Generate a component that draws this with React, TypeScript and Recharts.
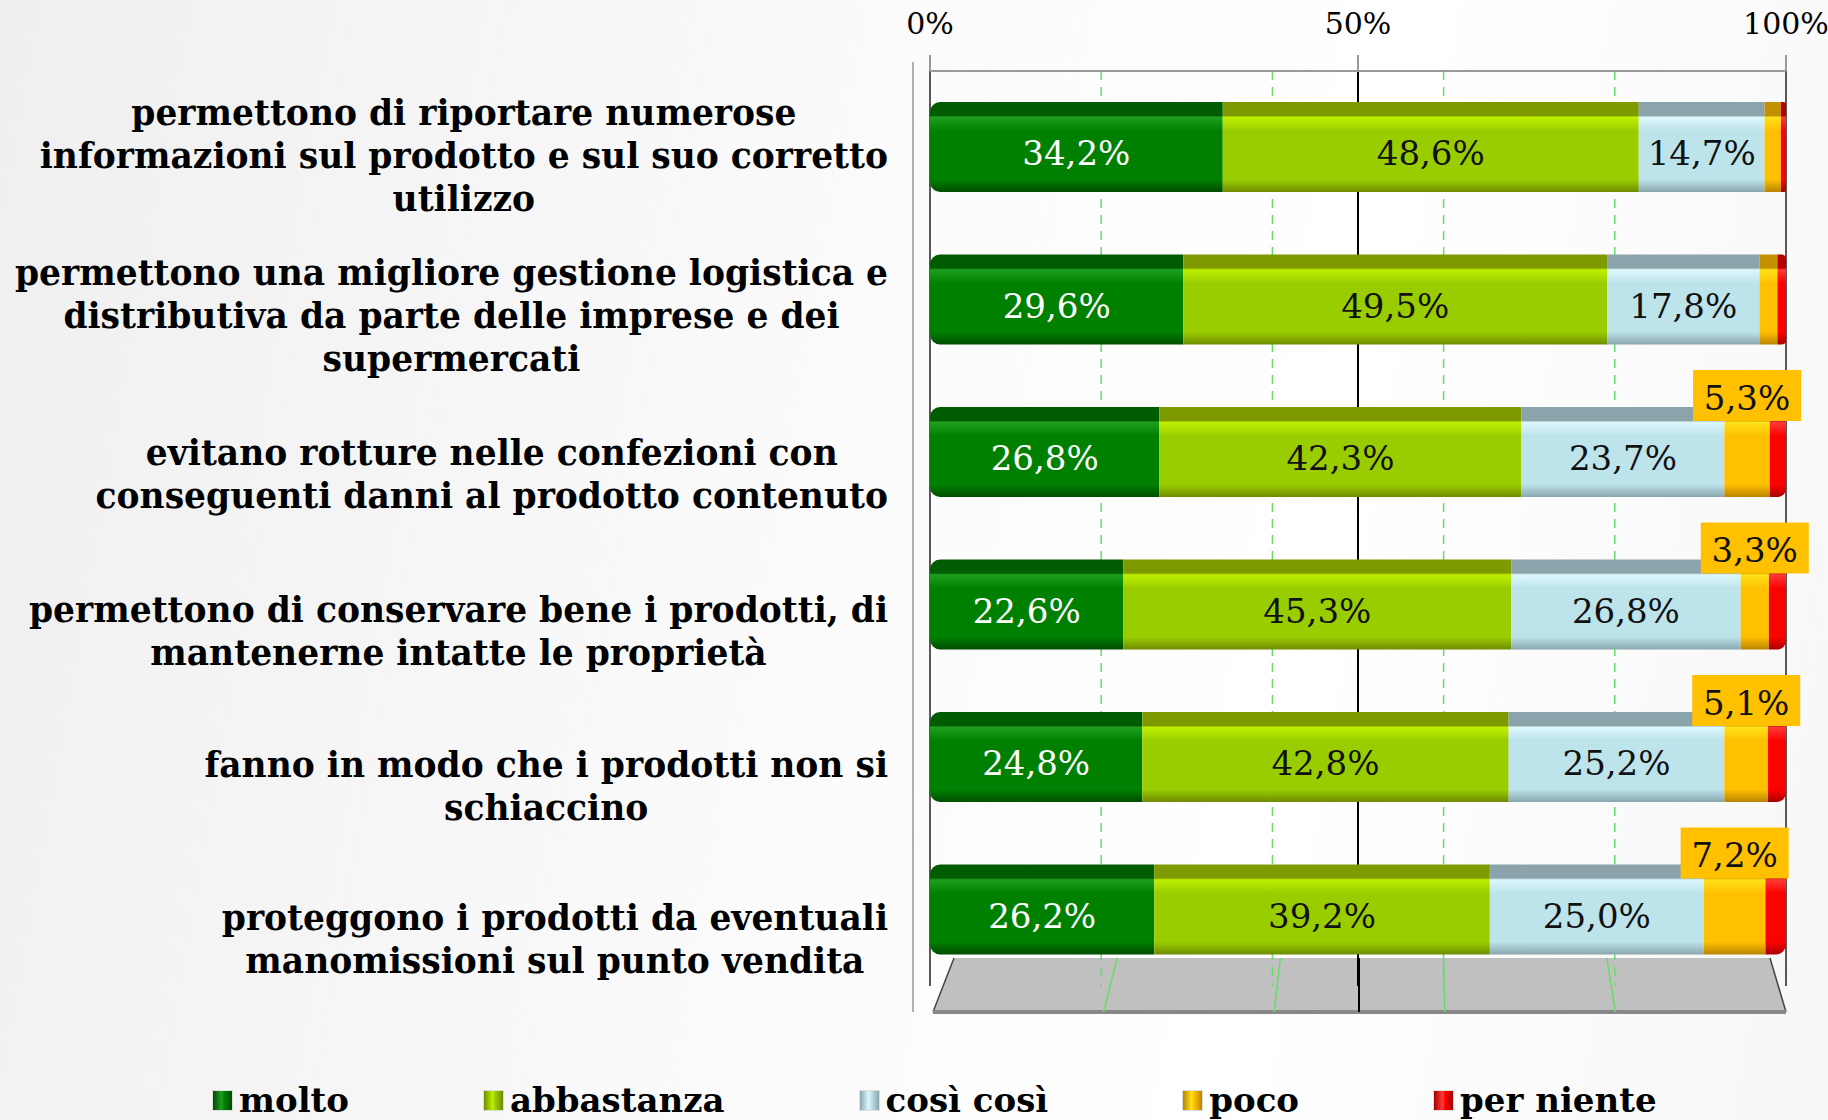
import React from "react";
import {
  BarChart,
  Bar,
  XAxis,
  YAxis,
  CartesianGrid,
  LabelList,
} from "recharts";

const CATEGORY_LINES = [
  ["permettono di riportare numerose", "informazioni sul prodotto e sul suo corretto", "utilizzo"],
  ["permettono una migliore gestione logistica e", "distributiva da parte delle imprese e dei", "supermercati"],
  ["evitano rotture nelle confezioni con", "conseguenti danni al prodotto contenuto"],
  ["permettono di conservare bene i prodotti, di", "mantenerne intatte le proprietà"],
  ["fanno in modo che i prodotti non si", "schiaccino"],
  ["proteggono i prodotti da eventuali", "manomissioni sul punto vendita"],
];

const MOLTO = [34.2, 29.6, 26.8, 22.6, 24.8, 26.2];
const ABBASTANZA = [48.6, 49.5, 42.3, 45.3, 42.8, 39.2];
const COSI_COSI = [14.7, 17.8, 23.7, 26.8, 25.2, 25.0];
const POCO = [1.9, 2.1, 5.3, 3.3, 5.1, 7.2];
const PER_NIENTE = [0.6, 1.0, 1.9, 2.0, 2.1, 2.4];

const X_TICKS = [0, 50, 100];
const DASHED_GRID = [20, 40, 60, 80];
const SOLID_GRID = [50];
const EDGE_GRID = [0, 100];

const SERIES = [
  { key: "molto", label: "molto", top: "#005c00", hi: "#1f9f1f", base: "#008000", low: "#004d00" },
  { key: "abbastanza", label: "abbastanza", top: "#7d9a00", hi: "#bff000", base: "#9acd00", low: "#6f8c00" },
  { key: "cosi", label: "così così", top: "#8ba3ab", hi: "#ddf8fc", base: "#bde3eb", low: "#8aa6ae" },
  { key: "poco", label: "poco", top: "#c49000", hi: "#ffe21a", base: "#ffc000", low: "#b98300" },
  { key: "perNiente", label: "per niente", top: "#b80000", hi: "#ff3a3a", base: "#ff0000", low: "#a80000" },
];

const data = CATEGORY_LINES.map((lines, i) => ({
  name: lines.join(" "),
  molto: MOLTO[i],
  abbastanza: ABBASTANZA[i],
  cosi: COSI_COSI[i],
  poco: POCO[i],
  perNiente: PER_NIENTE[i],
}));

const SERIF = "'DejaVu Serif', serif";
const fmt = (v: number) => v.toFixed(1).replace(".", ",") + "%";

let measureCtx: CanvasRenderingContext2D | null = null;
const measure = (s: string, font: string) => {
  if (!measureCtx) measureCtx = document.createElement("canvas").getContext("2d");
  if (!measureCtx) return s.length * 18;
  measureCtx.font = font;
  return measureCtx.measureText(s).width;
};

const CategoryTick = (props: any) => {
  const { y, payload } = props;
  const idx = CATEGORY_LINES.findIndex((l) => l.join(" ") === payload.value);
  const lines = CATEGORY_LINES[idx] || [String(payload.value)];
  const font = `bold 34.5px 'DejaVu Serif'`;
  const maxW = Math.max(...lines.map((l) => measure(l, font)));
  const right = 888;
  const cx = right - maxW / 2;
  const lh = 43;
  // the 3D perspective pushes the labels a little below the bar faces
  const t = 1 - Math.max(idx, 0) / 5;
  const cy = y + 30 - 21 * t * t;
  const y0 = cy - ((lines.length - 1) * lh) / 2;
  return (
    <text
      x={cx}
      y={y0}
      textAnchor="middle"
      dominantBaseline="central"
      fontFamily={SERIF}
      fontWeight="bold"
      fontSize={34.5}
      fill="#000"
    >
      {lines.map((l, k) => (
        <tspan key={k} x={cx} y={y0 + k * lh}>
          {l}
        </tspan>
      ))}
    </text>
  );
};

const innerLabel = (color: string) => (props: any) => {
  const { x, y, width, height, value } = props;
  return (
    <text
      x={x + width / 2}
      y={y + height / 2 + 6}
      fill={color}
      fontSize={34}
      fontFamily={SERIF}
      textAnchor="middle"
      dominantBaseline="central"
    >
      {fmt(Number(value))}
    </text>
  );
};

const pocoLabel = (props: any) => {
  const { x, y, width, value } = props;
  if (Number(value) < 3) return null;
  const cx = x + width / 2;
  const bw = 108;
  const bh = 51;
  const bottom = y + 14;
  return (
    <g>
      <rect x={cx - bw / 2} y={bottom - bh} width={bw} height={bh} fill="#ffc000" />
      <text
        x={cx}
        y={bottom - bh / 2 + 2}
        fontSize={34}
        fontFamily={SERIF}
        textAnchor="middle"
        dominantBaseline="central"
        fill="#111"
      >
        {fmt(Number(value))}
      </text>
    </g>
  );
};

const PLOT_LEFT = 930;
const PLOT_RIGHT = 1786;
const PLOT_TOP = 71;
const PLOT_BOTTOM = 986;

const Floor = () => {
  const tl = [954, 958];
  const tr = [1770, 958];
  const bl = [933, 1012];
  const br = [1786, 1012];
  const lerp = (a: number[], b: number[], t: number) => [a[0] + (b[0] - a[0]) * t, a[1] + (b[1] - a[1]) * t];
  return (
    <svg width={1828} height={1120} style={{ position: "absolute", left: 0, top: 0 }}>
      <polygon
        points={`${tl.join(",")} ${tr.join(",")} ${br.join(",")} ${bl.join(",")}`}
        fill="#c0c0c0"
      />
      <line x1={tl[0]} y1={tl[1]} x2={bl[0]} y2={bl[1]} stroke="#444" strokeWidth={1.5} />
      <line x1={tr[0]} y1={tr[1]} x2={br[0]} y2={br[1]} stroke="#444" strokeWidth={1.5} />
      <line x1={bl[0]} y1={1012} x2={br[0]} y2={1012} stroke="#888" strokeWidth={4} />
      {DASHED_GRID.map((p) => {
        const a = lerp(tl, tr, p / 100);
        const b = lerp(bl, br, p / 100);
        return <line key={p} x1={a[0]} y1={a[1]} x2={b[0]} y2={b[1]} stroke="#66dd66" strokeWidth={1.5} />;
      })}
      <line x1={1359} y1={958} x2={1359} y2={1012} stroke="#000" strokeWidth={2} />
      <line x1={913} y1={62} x2={913} y2={1012} stroke="#b0b0b0" strokeWidth={2} />
    </svg>
  );
};

const Legend = () => (
  <div
    style={{
      position: "absolute",
      left: 212,
      top: 1080,
      display: "flex",
      gap: 134,
      fontFamily: SERIF,
      fontWeight: "bold",
      fontSize: 34,
      color: "#000",
      whiteSpace: "nowrap",
    }}
  >
    {SERIES.map((s) => (
      <div key={s.key} style={{ display: "flex", alignItems: "center" }}>
        <div
          style={{
            width: 19,
            height: 19,
            marginRight: 6,
            background: `linear-gradient(to right, ${s.low}, ${s.hi} 45%, ${s.base} 60%, ${s.low})`,
            border: "1px solid #ddd",
          }}
        />
        <span>{s.label}</span>
      </div>
    ))}
  </div>
);

export default function App() {
  return (
    <div
      style={{
        position: "absolute",
        left: 0,
        top: 0,
        width: 1828,
        height: 1120,
        overflow: "hidden",
        background: "linear-gradient(100deg, #efefef 0%, #fbfbfb 45%, #ffffff 70%, #f7f7f7 100%)",
      }}
    >
      <Floor />
      <div style={{ position: "absolute", left: 0, top: 0 }}>
        <BarChart
          width={1828}
          height={1120}
          layout="vertical"
          data={data}
          margin={{ top: 0, right: 1828 - PLOT_RIGHT, bottom: 1120 - PLOT_BOTTOM, left: 0 }}
          barSize={90}
        >
          <defs>
            {SERIES.map((s) => (
              <linearGradient key={s.key} id={`g-${s.key}`} x1="0" y1="0" x2="0" y2="1">
                <stop offset="0" stopColor={s.top} />
                <stop offset="0.15" stopColor={s.top} />
                <stop offset="0.17" stopColor={s.hi} />
                <stop offset="0.32" stopColor={s.base} />
                <stop offset="0.86" stopColor={s.base} />
                <stop offset="1" stopColor={s.low} />
              </linearGradient>
            ))}
          </defs>
          <CartesianGrid
            horizontal={false}
            verticalValues={DASHED_GRID}
            stroke="#66dd66"
            strokeWidth={1.5}
            strokeDasharray="9 7"
          />
          <CartesianGrid horizontal={false} verticalValues={SOLID_GRID} stroke="#000" strokeWidth={2} />
          <CartesianGrid horizontal={false} verticalValues={EDGE_GRID} stroke="#222" strokeWidth={1.5} />
          <XAxis
            type="number"
            orientation="top"
            domain={[0, 100]}
            ticks={X_TICKS}
            tickFormatter={(v) => `${v}%`}
            tick={{ fontSize: 30, fontFamily: SERIF, fill: "#000" }}
            tickSize={16}
            tickMargin={21}
            height={PLOT_TOP}
            axisLine={{ stroke: "#999", strokeWidth: 2 }}
            tickLine={{ stroke: "#999", strokeWidth: 2 }}
            interval={0}
          />
          <YAxis
            type="category"
            dataKey="name"
            width={PLOT_LEFT}
            axisLine={false}
            tickLine={false}
            tick={<CategoryTick />}
            interval={0}
          />
          <Bar dataKey="molto" stackId="a" fill="url(#g-molto)" radius={[10, 0, 0, 10]} isAnimationActive={false}>
            <LabelList dataKey="molto" content={innerLabel("#ffffff")} />
          </Bar>
          <Bar dataKey="abbastanza" stackId="a" fill="url(#g-abbastanza)" isAnimationActive={false}>
            <LabelList dataKey="abbastanza" content={innerLabel("#111")} />
          </Bar>
          <Bar dataKey="cosi" stackId="a" fill="url(#g-cosi)" isAnimationActive={false}>
            <LabelList dataKey="cosi" content={innerLabel("#111")} />
          </Bar>
          <Bar dataKey="poco" stackId="a" fill="url(#g-poco)" isAnimationActive={false}>
            <LabelList dataKey="poco" content={pocoLabel} />
          </Bar>
          <Bar dataKey="perNiente" stackId="a" fill="url(#g-perNiente)" radius={[0, 10, 10, 0]} isAnimationActive={false} />
        </BarChart>
      </div>
      <Legend />
    </div>
  );
}
